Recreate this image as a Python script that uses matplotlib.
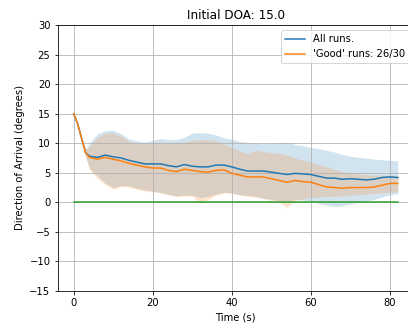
import numpy as np
import matplotlib
matplotlib.use("Agg")
import matplotlib.pyplot as plt

# time stamps (s)
t = [0, 1, 2, 3] + list(range(4, 83, 2))

# mean DOA, all runs
all_mean = [15.0, 13.3, 10.8, 8.4, 7.8, 7.6, 8.0, 7.7, 7.5, 7.1, 6.8, 6.5, 6.5, 6.5,
            6.2, 6.0, 6.4, 6.1, 6.0, 6.0, 6.3, 6.3, 6.0, 5.6, 5.3, 5.3, 5.3, 5.1,
            4.9, 4.7, 4.9, 4.8, 4.7, 4.4, 4.1, 4.1, 3.9, 4.0, 3.9, 3.8, 3.9, 4.2,
            4.3, 4.2]
all_hi = [15.0, 13.4, 11.0, 9.0, 10.0, 11.6, 12.1, 12.2, 11.6, 10.7, 10.4, 10.2, 10.5,
          10.8, 10.6, 10.6, 11.0, 11.7, 11.8, 11.7, 11.4, 10.9, 10.7, 10.3, 10.1, 10.0,
          9.9, 10.0, 10.1, 10.2, 9.8, 9.6, 9.3, 9.1, 8.8, 8.5, 8.1, 7.8, 7.6, 7.5,
          7.3, 7.2, 7.1, 7.0]
all_lo = [15.0, 13.2, 10.6, 7.8, 5.8, 4.5, 3.2, 2.5, 2.8, 2.8, 2.4, 2.1, 1.9, 1.7,
          1.4, 1.1, 1.2, 1.2, 0.8, 1.0, 1.4, 1.7, 1.6, 1.3, 1.2, 1.0, 0.7, 0.5,
          0.3, 0.2, 0.5, 0.4, 0.2, -0.2, -0.5, -0.7, -0.6, -0.3, 0.0, 0.2, 0.5,
          0.9, 1.3, 1.5]

# mean DOA, 'good' runs
good_mean = [15.0, 13.3, 10.8, 8.4, 7.6, 7.3, 7.6, 7.3, 7.0, 6.6, 6.3, 6.0, 5.8, 5.8,
             5.4, 5.2, 5.6, 5.4, 5.2, 5.1, 5.4, 5.5, 4.9, 4.6, 4.3, 4.3, 4.3, 4.0,
             3.7, 3.4, 3.7, 3.5, 3.4, 3.0, 2.6, 2.5, 2.4, 2.5, 2.5, 2.5, 2.6, 2.9,
             3.2, 3.2]
good_hi = [15.0, 13.4, 11.0, 9.0, 9.5, 11.0, 11.7, 11.7, 11.2, 10.3, 10.0, 9.9, 10.0,
           10.2, 10.1, 10.0, 10.2, 10.5, 10.6, 10.6, 10.4, 9.8, 9.3, 8.7, 8.3, 8.8,
           8.6, 8.4, 8.3, 8.0, 7.5, 7.1, 6.8, 6.3, 6.0, 5.6, 5.2, 5.0, 4.8, 4.7,
           4.6, 4.6, 4.5, 4.5]
good_lo = [15.0, 13.2, 10.6, 7.6, 5.5, 4.0, 3.0, 2.2, 2.7, 2.6, 2.2, 1.9, 1.8, 1.6,
           1.2, 1.0, 1.1, 1.0, -0.2, 0.5, 1.2, 1.6, 1.5, 1.2, 1.0, 0.9, 0.6, 0.3,
           0.0, -0.9, 0.3, 0.6, 0.8, 0.9, 1.0, 1.0, 1.1, 1.2, 1.3, 1.4, 1.5, 1.6,
           1.7, 1.8]

target = np.zeros(len(t))

fig = plt.figure(figsize=(408 / 72, 326 / 72), dpi=72)
ax = fig.add_axes([57.5 / 408, 35 / 326, (414 - 57.5) / 408, 266 / 326])

ax.plot(t, all_mean, color="C0", label="All runs.")
ax.fill_between(t, all_lo, all_hi, color="C0", alpha=0.2, linewidth=0)
ax.plot(t, good_mean, color="C1", label="'Good' runs: 26/30")
ax.fill_between(t, good_lo, good_hi, color="C1", alpha=0.2, linewidth=0)
ax.plot(t, target, color="C2")

ax.set_ylim(-15, 30)
ax.set_yticks(np.arange(-15, 31, 5))
ax.set_xticks([0, 20, 40, 60, 80])
ax.grid(True)
ax.set_title("Initial DOA: 15.0")
ax.set_xlabel("Time (s)")
ax.set_ylabel("Direction of Arrival (degrees)")
ax.legend(loc="upper right")

fig.savefig("out.png", dpi=72)
